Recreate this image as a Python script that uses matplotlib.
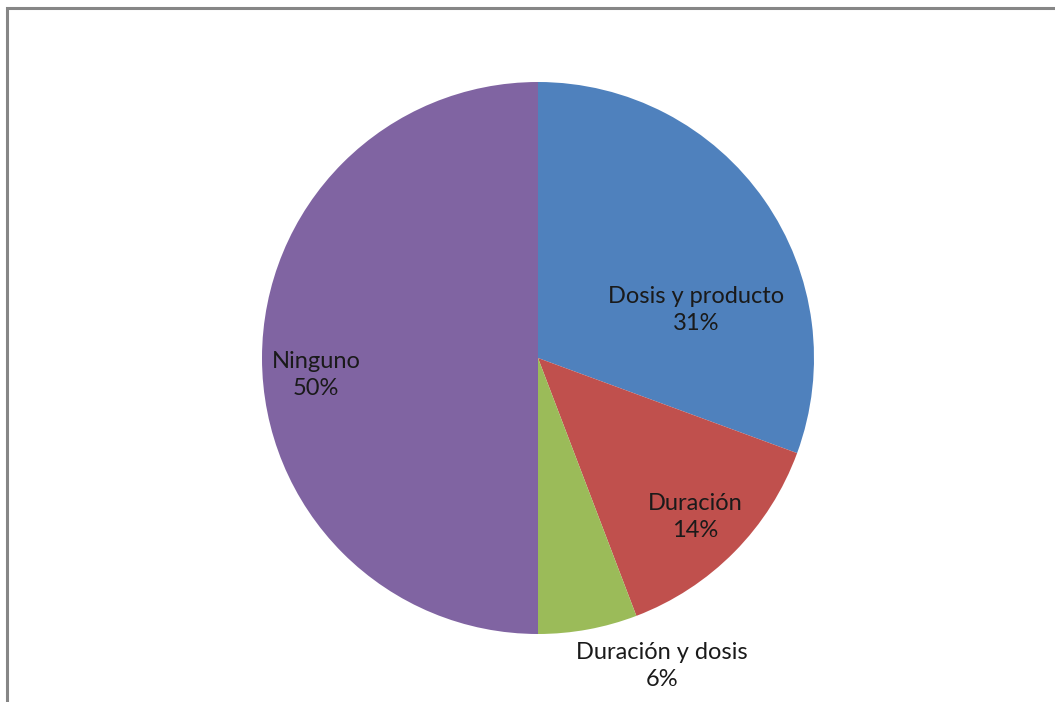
import matplotlib
matplotlib.use("Agg")
import matplotlib.pyplot as plt
from matplotlib.patches import Rectangle

labels = ["Dosis y producto", "Duración", "Duración y dosis", "Ninguno"]
values = [30.6, 13.6, 5.8, 50.0]
colors = ["#4F81BD", "#C0504D", "#9BBB59", "#8064A2"]

# label anchor points in pixel space (y measured from the bottom)
label_pos = [(696, 392), (695, 185), (662, 36), (316, 327)]

plt.rcParams['font.family'] = ['Lato', 'DejaVu Sans']

fig = plt.figure(figsize=(10.55, 7.02), dpi=100)
ax = fig.add_axes([0, 0, 1, 1])

ax.pie(values, colors=colors, startangle=90, counterclock=False,
       center=(538, 344), radius=276, frame=True,
       wedgeprops=dict(linewidth=0))
ax.set_xlim(0, 1055)
ax.set_ylim(0, 702)
ax.set_aspect("equal")
ax.axis("off")

for lab, v, (x, y) in zip(labels, values, label_pos):
    ax.text(x, y, f"{lab}\n{v:.0f}%", ha="center", va="center",
            fontsize=17, color="#1a1a1a", linespacing=1.3)

# chart area border, cut off at the right and bottom
ax.add_patch(Rectangle((7, -20), 1100, 714, fill=False,
                       edgecolor="#868686", linewidth=2.2, clip_on=False))

fig.savefig("out.png", dpi=100)
